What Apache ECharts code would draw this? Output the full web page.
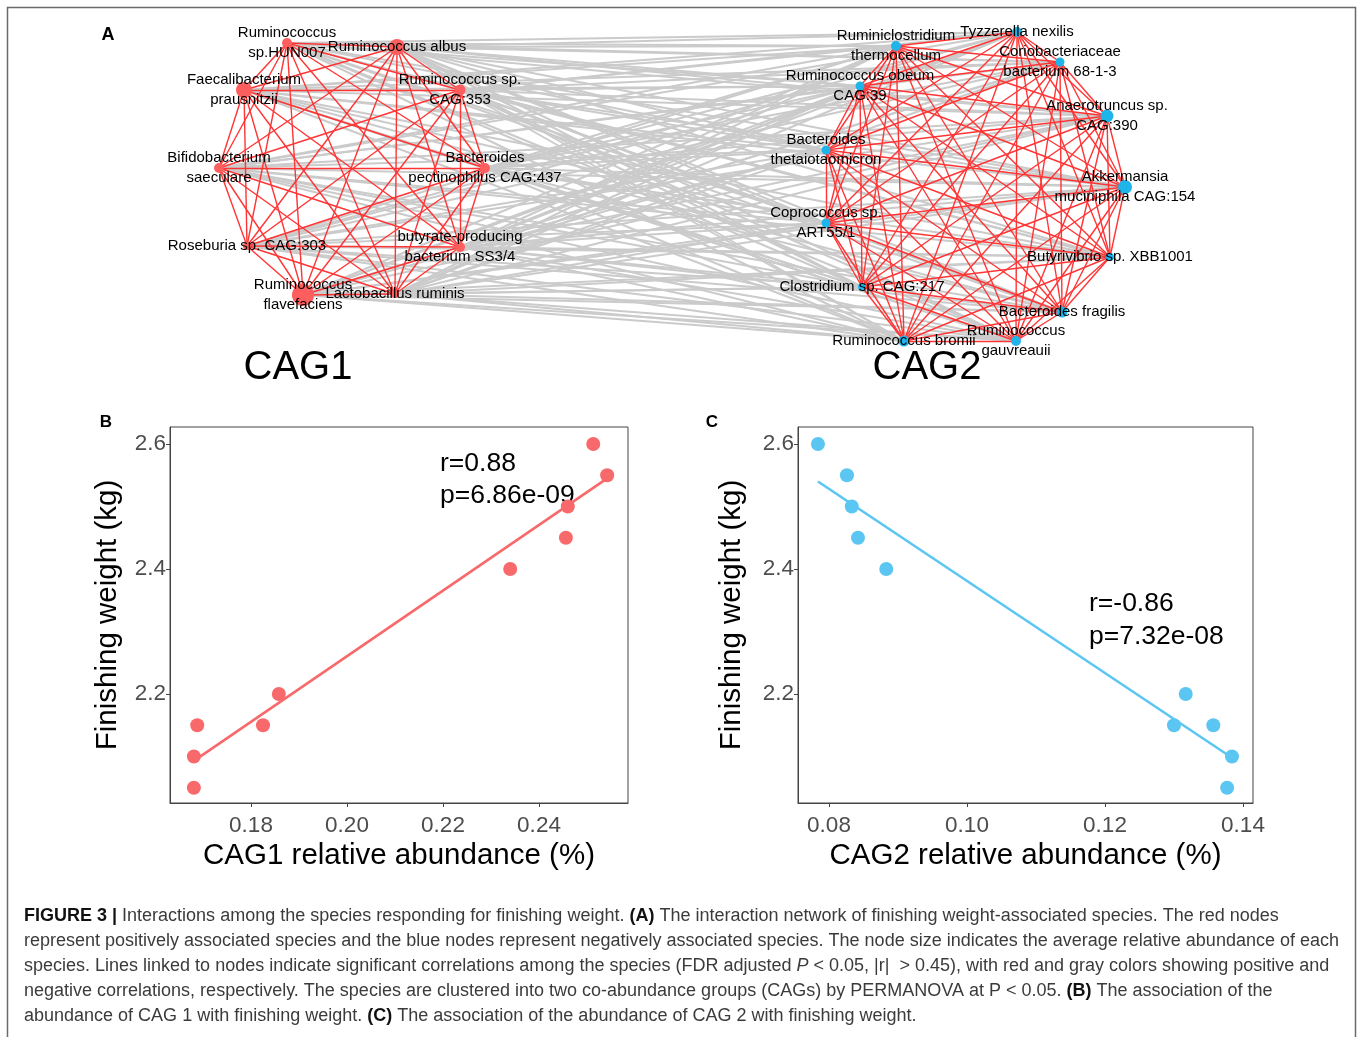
<!DOCTYPE html>
<html><head><meta charset="utf-8">
<script src="https://cdn.jsdelivr.net/npm/echarts@6/dist/echarts.min.js"></script>
<style>html,body{margin:0;padding:0;background:#fff}#c{width:1360px;height:1037px}</style>
</head><body><div id="c"></div>
<script>
// ================= DATA =================
// Panel A – network (layout coordinates of the original network drawing)
const cag1Names = ['Ruminococcus\nsp.HUN007','Ruminococcus albus','Ruminococcus sp.\nCAG:353','Bacteroides\npectinophilus CAG:437','butyrate-producing\nbacterium SS3/4','Lactobacillus ruminis','Ruminococcus\nflavefaciens','Roseburia sp. CAG:303','Bifidobacterium\nsaeculare','Faecalibacterium\nprausnitzii'];
const cag1X = [287, 397, 460, 485, 460, 395, 303, 247, 219, 244];
const cag1Y = [43, 47, 90, 168, 247, 294, 295, 246, 168, 90];
const cag1Abundance = [10, 16, 11, 10, 10, 8, 22, 8, 10, 16];   // node size ~ mean relative abundance

const cag2Names = ['Ruminiclostridium\nthermocellum','Tyzzerella nexilis','Coriobacteriaceae\nbacterium 68-1-3','Ruminococcus obeum\nCAG:39','Anaerotruncus sp.\nCAG:390','Bacteroides\nthetaiotaomicron','Akkermansia\nmuciniphila CAG:154','Coprococcus sp.\nART55/1','Butyrivibrio sp. XBB1001','Clostridium sp. CAG:217','Bacteroides fragilis','Ruminococcus\ngauvreauii','Ruminococcus bromii'];
const cag2X = [896, 1017, 1060, 860, 1107, 826, 1125, 826, 1110, 862, 1062, 1016, 904];
const cag2Y = [46, 32, 62, 86, 116, 150, 187, 223, 257, 287, 312, 341, 341];
const cag2Abundance = [10, 10, 9, 9, 13, 9, 14, 9, 8, 8, 11, 10, 11];

// Panel B
const cag1Rel = [0.2513, 0.2542, 0.2460, 0.2456, 0.2340, 0.1858, 0.1688, 0.1825, 0.1681, 0.1681];
const weightB = [2.60, 2.55, 2.50, 2.45, 2.40, 2.20, 2.15, 2.15, 2.10, 2.05];
const fitBx = [0.1681, 0.2542];
const fitBy = [2.093, 2.545];
const xTicksB = [0.18, 0.20, 0.22, 0.24];

// Panel C
const cag2Rel = [0.0784, 0.0826, 0.0833, 0.0842, 0.0883, 0.1317, 0.1300, 0.1357, 0.1384, 0.1377];
const weightC = [2.60, 2.55, 2.50, 2.45, 2.40, 2.20, 2.15, 2.15, 2.10, 2.05];
const fitCx = [0.0784, 0.1384];
const fitCy = [2.540, 2.098];
const xTicksC = [0.08, 0.10, 0.12, 0.14];
const yTicks = [2.2, 2.4, 2.6];

const captionLines = [
  '{b|FIGURE 3 |} Interactions among the species responding for finishing weight. {b|(A)} The interaction network of finishing weight-associated species. The red nodes',
  'represent positively associated species and the blue nodes represent negatively associated species. The node size indicates the average relative abundance of each',
  'species. Lines linked to nodes indicate significant correlations among the species (FDR adjusted {i|P} < 0.05, |r|  > 0.45), with red and gray colors showing positive and',
  'negative correlations, respectively. The species are clustered into two co-abundance groups (CAGs) by PERMANOVA at P < 0.05. {b|(B)} The association of the',
  'abundance of CAG 1 with finishing weight. {b|(C)} The association of the abundance of CAG 2 with finishing weight.'
];

// ================= BUILD =================
const FONT = '"Liberation Sans", Arial, Helvetica, sans-serif';
const RED_NODE = '#FF5E5E', BLUE_NODE = '#1FB4EA', RED_EDGE = '#FF3535', GRAY_EDGE = '#CBCBCB';
const PT_RED = '#F8696B', PT_BLUE = '#5CC6F3';

const nodes = [];
cag1Names.forEach((n, i) => nodes.push({name: n, x: cag1X[i], y: cag1Y[i], symbolSize: cag1Abundance[i], itemStyle: {color: RED_NODE}}));
cag2Names.forEach((n, i) => nodes.push({name: n, x: cag2X[i], y: cag2Y[i], symbolSize: cag2Abundance[i], itemStyle: {color: BLUE_NODE}}));
const n1 = cag1Names.length, n2 = cag2Names.length;
const links = [];
const pos = {color: RED_EDGE, width: 1.4, opacity: 1};
const neg = {color: GRAY_EDGE, width: 2, opacity: 1};
for (let i = 0; i < n1; i++) for (let j = 0; j < n2; j++) links.push({source: i, target: n1 + j, lineStyle: neg});
for (let i = 0; i < n2; i++) for (let j = i + 1; j < n2; j++) links.push({source: n1 + i, target: n1 + j, lineStyle: pos});
for (let i = 0; i < n1; i++) for (let j = i + 1; j < n1; j++) links.push({source: i, target: j, lineStyle: pos});

const minX = Math.min(...cag1X, ...cag2X), maxX = Math.max(...cag1X, ...cag2X);
const minY = Math.min(...cag1Y, ...cag2Y), maxY = Math.max(...cag1Y, ...cag2Y);

function xAxisOpt(gi, min, max, ticks, name) {
  return {type: 'value', gridIndex: gi, min, max,
    axisLine: {show: true, onZero: false, lineStyle: {color: '#444', width: 1}},
    splitLine: {show: false},
    axisTick: {show: true, length: 4, customValues: ticks, lineStyle: {color: '#444'}},
    axisLabel: {customValues: ticks, formatter: v => v.toFixed(2), color: '#4D4D4D', fontSize: 22.5, margin: 11, fontFamily: FONT},
    name, nameLocation: 'middle', nameGap: 38, nameTextStyle: {fontSize: 29.5, color: '#000', fontFamily: FONT}};
}
function yAxisOpt(gi, gap) {
  return {type: 'value', gridIndex: gi, min: 2.0256, max: 2.6272,
    axisLine: {show: true, onZero: false, lineStyle: {color: '#444', width: 1}},
    splitLine: {show: false},
    axisTick: {show: true, length: 4, customValues: yTicks, lineStyle: {color: '#444'}},
    axisLabel: {customValues: yTicks, formatter: v => v.toFixed(1), color: '#4D4D4D', fontSize: 22.5, margin: 4, fontFamily: FONT},
    name: 'Finishing weight (kg)', nameLocation: 'middle', nameGap: gap, nameTextStyle: {fontSize: 29.5, color: '#000', fontFamily: FONT}};
}
const zip = (a, b) => a.map((v, i) => [v, b[i]]);

// caption scale: fit line 2 to the measured width of the original column
const ctx = document.createElement('canvas').getContext('2d');
ctx.font = '18px ' + FONT;
const capScale = 1315 / ctx.measureText(captionLines[1]).width;

const graphic = [
  {type: 'rect', shape: {x: 7.5, y: 7.5, width: 1348, height: 1100}, style: {fill: null, stroke: '#6a6a6a', lineWidth: 1.5}, z: 0},
  {type: 'text', x: 108, y: 35, style: {text: 'A', font: 'bold 18px ' + FONT, fill: '#000', align: 'center', verticalAlign: 'middle'}},
  {type: 'text', x: 106, y: 422, style: {text: 'B', font: 'bold 17px ' + FONT, fill: '#000', align: 'center', verticalAlign: 'middle'}},
  {type: 'text', x: 712, y: 422, style: {text: 'C', font: 'bold 17px ' + FONT, fill: '#000', align: 'center', verticalAlign: 'middle'}},
  {type: 'text', x: 298, y: 368, style: {text: 'CAG1', font: '40px ' + FONT, fill: '#000', align: 'center', verticalAlign: 'middle'}},
  {type: 'text', x: 927, y: 368, style: {text: 'CAG2', font: '40px ' + FONT, fill: '#000', align: 'center', verticalAlign: 'middle'}},
  {type: 'text', x: 440, y: 480, style: {text: 'r=0.88\np=6.86e-09', font: '26.5px ' + FONT, lineHeight: 32, fill: '#000', align: 'left', verticalAlign: 'middle'}},
  {type: 'text', x: 1089, y: 620, style: {text: 'r=-0.86\np=7.32e-08', font: '26.5px ' + FONT, lineHeight: 33, fill: '#000', align: 'left', verticalAlign: 'middle'}}
];
captionLines.forEach((t, i) => graphic.push({
  type: 'text', x: 24, y: 916 + i * 25, scaleX: capScale,
  style: {text: t, font: '18px ' + FONT, fill: '#3b3b3b', verticalAlign: 'middle',
    rich: {b: {fontWeight: 'bold', fill: '#111', fontSize: 18, fontFamily: FONT}, i: {fontStyle: 'italic', fontSize: 18, fontFamily: FONT, fill: '#3b3b3b'}}}
}));

const option = {
  animation: false,
  backgroundColor: '#fff',
  textStyle: {fontFamily: FONT},
  grid: [
    {left: 170, top: 427, width: 458, height: 376, show: true, borderColor: '#444', borderWidth: 1, backgroundColor: '#fff'},
    {left: 798, top: 427, width: 455, height: 376, show: true, borderColor: '#444', borderWidth: 1, backgroundColor: '#fff'}
  ],
  xAxis: [xAxisOpt(0, 0.163125, 0.25854, xTicksB, 'CAG1 relative abundance (%)'),
          xAxisOpt(1, 0.075507, 0.14145, xTicksC, 'CAG2 relative abundance (%)')],
  yAxis: [yAxisOpt(0, 47), yAxisOpt(1, 51)],
  graphic,
  series: [
    {type: 'graph', layout: 'none', roam: false, silent: true,
      left: minX, top: minY, width: maxX - minX, height: maxY - minY,
      data: nodes, links, symbol: 'circle',
      label: {show: true, position: 'inside', color: '#000', fontSize: 15, lineHeight: 20.5, fontFamily: FONT},
      lineStyle: {opacity: 1, curveness: 0},
      emphasis: {disabled: true}, z: 2},
    {type: 'scatter', xAxisIndex: 0, yAxisIndex: 0, data: zip(cag1Rel, weightB), symbolSize: 14, itemStyle: {color: PT_RED, opacity: 1}, silent: true, z: 3},
    {type: 'line', xAxisIndex: 0, yAxisIndex: 0, data: zip(fitBx, fitBy), symbol: 'none', lineStyle: {color: PT_RED, width: 2.6}, silent: true, z: 4},
    {type: 'scatter', xAxisIndex: 1, yAxisIndex: 1, data: zip(cag2Rel, weightC), symbolSize: 14, itemStyle: {color: PT_BLUE, opacity: 1}, silent: true, z: 3},
    {type: 'line', xAxisIndex: 1, yAxisIndex: 1, data: zip(fitCx, fitCy), symbol: 'none', lineStyle: {color: PT_BLUE, width: 2.6}, silent: true, z: 4}
  ]
};
const chart = echarts.init(document.getElementById('c'), null, {renderer: 'canvas'});
chart.setOption(option);
</script></body></html>
